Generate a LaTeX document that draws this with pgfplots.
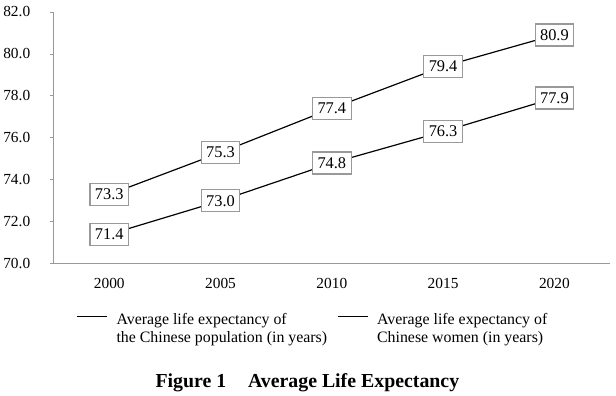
\documentclass[border=0pt]{standalone}
\usepackage{pgfplots}
\pgfplotsset{compat=1.18}
\usepackage{fontspec}
\setmainfont{Liberation Serif}
\begin{document}
\begin{tikzpicture}
\begin{axis}[
  scale only axis=true,
  width=559bp, height=253bp,
  xmin=-0.5, xmax=4.5,
  ymin=70, ymax=82,
  axis x line*=bottom, axis y line*=left,
  axis line style={draw=gray!80, line width=0.8pt},
  xtick={0,1,2,3,4},
  xticklabels={2000,2005,2010,2015,2020},
  x tick style={draw=none},
  ytick={70,72,74,76,78,80,82},
  yticklabel style={xshift=-16bp, /pgf/number format/.cd, fixed, fixed zerofill, precision=1},
  y tick style={draw=gray!80, line width=0.8pt},
  tick align=outside, major tick length=4bp,
  /pgf/number format/assume math mode=true,
  tick label style={font=\fontsize{15.5}{18}\selectfont},
  xticklabel style={yshift=-7bp},
  nodes near coords,
  nodes near coords style={font=\fontsize{16.5}{19}\selectfont, anchor=center, fill=white, draw=gray!80, inner xsep=5bp, inner ysep=5.5bp, /pgf/number format/.cd, fixed, fixed zerofill, precision=1},
  legend columns=2,
  legend style={at={(0.466,-0.178)}, anchor=north, draw=none, font=\fontsize{16}{18.5}\selectfont, cells={align=left, anchor=north west}, /tikz/every even column/.append style={column sep=8bp}},
  legend image code/.code={\draw[#1] (0bp,-6bp) -- (30bp,-6bp); \path (37bp,-6bp);},
  legend image post style={line width=1.2pt},
  title={Figure 1\hspace{1.1em}Average Life Expectancy},
  title style={at={(0.456,-0.445)}, anchor=north, font=\bfseries\fontsize{20}{22}\selectfont},
  clip=false,
]
\addplot[black, line width=1.2pt, mark=none] coordinates {(0,71.4) (1,73.0) (2,74.8) (3,76.3) (4,77.9)};
\addlegendentry{Average life expectancy of\\the Chinese population (in years)}
\addplot[black, line width=1.2pt, mark=none] coordinates {(0,73.3) (1,75.3) (2,77.4) (3,79.4) (4,80.9)};
\addlegendentry{Average life expectancy of\\Chinese women (in years)}
\end{axis}
\path (current axis.east) ++(6bp,0) coordinate (r);
\path (current axis.north) ++(0,12bp) coordinate (t);
\end{tikzpicture}
\end{document}
